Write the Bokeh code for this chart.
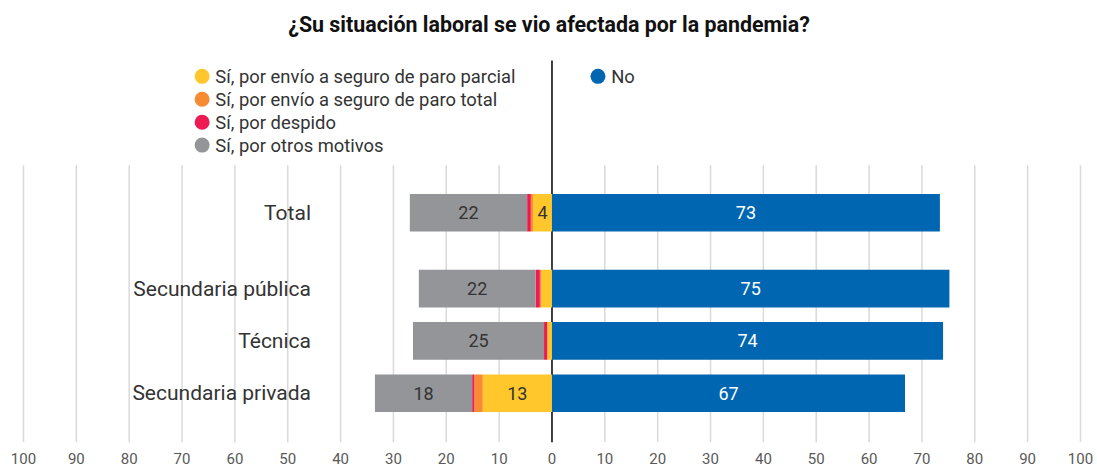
import numpy as np
from bokeh.plotting import figure
from bokeh.models import Range1d, FixedTicker
from bokeh.core.properties import value
from bokeh.embed import file_html
from bokeh.resources import INLINE

# ---------------- data ----------------
categories = ["Total", "Secundaria pública", "Técnica", "Secundaria privada"]
parcial = [3.6, 2.0, 0.9, 13.1]      # Sí, por envío a seguro de paro parcial
paro_total = [0.4, 0.3, 0.0, 1.6]    # Sí, por envío a seguro de paro total
despido = [0.7, 0.8, 0.6, 0.4]       # Sí, por despido
otros = [22.2, 22.1, 24.8, 18.4]     # Sí, por otros motivos
no = [73.4, 75.2, 74.0, 66.8]        # No
series_names = [
    "Sí, por envío a seguro de paro parcial",
    "Sí, por envío a seguro de paro total",
    "Sí, por despido",
    "Sí, por otros motivos",
    "No",
]
tick_values = list(range(-100, 101, 10))
tick_labels = [str(abs(t)) for t in tick_values]
title_text = "¿Su situación laboral se vio afectada por la pandemia?"

# ---------------- layout / style ----------------
row_pos = [3.45, 2.0, 1.0, 0.0]
bar_h = 0.72
colors = ["#FFC72C", "#F68B33", "#EE1A52", "#939598", "#0066B2"]
FONT = "Roboto"
label_x = -45.6
grid_top = 4.36
zero_top = 6.362
y_bottom = -0.941
legend_x = [-66.2, -66.2, -66.2, -66.2, 8.7]
legend_y = [6.057, 5.619, 5.181, 4.743, 6.057]
legend_text_dx = 2.5

p = figure(width=1097, height=466,
           x_range=Range1d(-104.35, 103.22), y_range=Range1d(y_bottom, 6.819),
           output_backend="svg", toolbar_location=None,
           y_axis_location=None,
           min_border_left=0, min_border_right=0,
           min_border_top=36, min_border_bottom=20)
p.outline_line_color = None
p.xgrid.grid_line_color = None
p.ygrid.grid_line_color = None
p.background_fill_color = "white"
p.border_fill_color = "white"

p.title.text = title_text
p.title.align = "center"
p.title.vertical_align = "bottom"
p.title.offset = 3
p.title.text_font = FONT
p.title.text_font_size = "21.4px"
p.title.text_font_style = "bold"
p.title.text_color = "#111111"
p.title.standoff = 0

# axis
ax = p.xaxis[0]
ax.ticker = FixedTicker(ticks=tick_values)
ax.major_label_overrides = {t: l for t, l in zip(tick_values, tick_labels)}
ax.axis_line_color = None
ax.major_tick_line_color = None
ax.minor_tick_line_color = None
ax.major_label_standoff = 4
ax.major_label_text_font = FONT
ax.major_label_text_font_size = "15px"
ax.major_label_text_color = "#595959"

# gridlines (limited height)
gx = [t for t in tick_values if t != 0]
p.segment(x0=gx, y0=[y_bottom] * len(gx), x1=gx, y1=[grid_top] * len(gx),
          line_color="#d9d9d9", line_width=1.5)
# zero line
p.segment(x0=[0], y0=[y_bottom], x1=[0], y1=[zero_top], line_color="black", line_width=1.5)

# stacked bars
neg = np.array([parcial, paro_total, despido, otros])
cum = np.cumsum(neg, axis=0)
starts = np.vstack([np.zeros(len(categories)), cum[:-1]])
for i in range(neg.shape[0]):
    p.hbar(y=row_pos, left=-cum[i], right=-starts[i], height=bar_h,
           fill_color=colors[i], line_color=None)
p.hbar(y=row_pos, left=0, right=no, height=bar_h, fill_color=colors[4], line_color=None)

# value labels
lx, ly, lt = [], [], []
for i in range(neg.shape[0]):
    for j in range(len(categories)):
        v = neg[i, j]
        if v >= 3:
            lx.append(-(starts[i, j] + cum[i, j]) / 2)
            ly.append(row_pos[j])
            lt.append(str(int(round(v))))
p.text(x=lx, y=ly, text=lt, text_align="center", text_baseline="middle",
       text_font=value(FONT), text_font_size="18px", text_color="#333333")
p.text(x=[v / 2 for v in no], y=row_pos, text=[str(int(round(v))) for v in no],
       text_align="center", text_baseline="middle",
       text_font=value(FONT), text_font_size="18px", text_color="white")

# category labels
p.text(x=[label_x] * len(categories), y=row_pos, text=categories,
       text_align="right", text_baseline="middle",
       text_font=value(FONT), text_font_size="21px", text_color="#333333")

# legend
p.scatter(x=legend_x, y=legend_y, marker="circle", size=15, fill_color=colors, line_color=None)
p.text(x=[x + legend_text_dx for x in legend_x], y=legend_y, text=series_names,
       text_align="left", text_baseline="middle",
       text_font=value(FONT), text_font_size="18.4px", text_color="#333333")

open("out.html", "w").write(file_html(p, INLINE))
